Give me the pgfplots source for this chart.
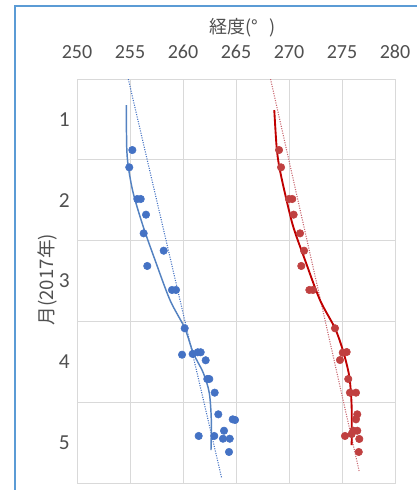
\documentclass[border=0pt]{standalone}
\usepackage{fontspec}
\setmainfont{Carlito}
\newfontfamily\cjk{Noto Sans CJK JP}
\usepackage{pgfplots}
\pgfplotsset{compat=1.18}
\definecolor{bordercol}{RGB}{91,155,213}
\definecolor{gridcol}{RGB}{217,217,217}
\definecolor{tickgray}{RGB}{80,80,80}
\definecolor{bluept}{RGB}{68,114,196}
\definecolor{blueln}{RGB}{84,130,193}
\definecolor{redpt}{RGB}{192,64,64}
\definecolor{redln}{RGB}{192,0,0}
\definecolor{reddot}{RGB}{200,100,110}
\begin{document}
\begin{tikzpicture}[x=1pt,y=1pt]
\useasboundingbox (0,0) rectangle (312.75,367.5);
\fill[white] (0,0) rectangle (312.75,367.5);
\draw[bordercol, line width=0.9pt] (11.25,-1) -- (11.25,363) -- (314,363);
\begin{axis}[
  name=ax,
  at={(57.75pt,5.25pt)}, anchor=south west,
  scale only axis, width=238.5pt, height=303pt,
  xmin=250, xmax=280, ymin=0, ymax=5, y dir=reverse,
  xtick={250,255,...,280}, xticklabel pos=top,
  ytick={0.5,1.5,2.5,3.5,4.5}, yticklabels={1,2,3,4,5},
  minor ytick={1,2,3,4},
  xmajorgrids=true, ymajorgrids=false, yminorgrids=true,
  major tick length=0pt, minor tick length=0pt,
  axis line style={gridcol, line width=0.6pt},
  grid style={gridcol, line width=0.6pt},
  minor grid style={gridcol, line width=0.6pt},
  /pgf/number format/assume math mode=true,
  xticklabel style={font=\fontsize{15}{15}\selectfont, text=tickgray, yshift=11.5pt},
  yticklabel style={font=\fontsize{16}{16}\selectfont, text=tickgray, xshift=-2pt},
  clip=true,
]
% blue linear trend (dotted)
\addplot[bluept, densely dotted, line width=0.8pt] coordinates {(254.84,0) (263.65,4.94)};
% red linear trend (dotted)
\addplot[reddot, densely dotted, line width=0.8pt] coordinates {(268.26,0) (276.63,4.86)};
% blue smooth curve
\addplot[blueln, line width=1.1pt, smooth, tension=0.5] coordinates {
(254.65,0.322) (254.69,0.838) (254.84,1.085) (255.31,1.415) (256.25,1.828)
(257.36,2.240) (258.77,2.735) (260.16,3.082) (260.97,3.391) (261.92,3.639)
(262.48,3.886) (262.67,4.220) (262.64,4.592)};
% red smooth curve
\addplot[redln, line width=1.4pt, smooth, tension=0.5] coordinates {
(268.61,0.384) (268.83,0.838) (269.08,1.085) (269.62,1.415) (270.40,1.828)
(271.51,2.240) (272.92,2.735) (274.34,3.085) (275.12,3.375) (275.69,3.684)
(275.91,4.056) (275.91,4.530)};
% blue points
\addplot[only marks, mark=*, mark size=2.8pt, mark options={fill=bluept, draw=bluept}] coordinates {
(255.22,0.879) (254.93,1.093) (255.69,1.485) (256.01,1.485) (256.51,1.679)
(256.29,1.910) (258.18,2.125) (256.63,2.314) (258.96,2.611) (259.34,2.611)
(260.16,3.085) (259.91,3.412) (260.91,3.403) (261.39,3.382) (261.67,3.382)
(262.14,3.481) (262.29,3.713) (262.48,3.713) (262.99,3.882) (263.33,4.150)
(264.69,4.212) (264.91,4.220) (263.87,4.353) (261.48,4.418) (262.95,4.418)
(263.77,4.452) (264.41,4.452) (264.34,4.616)};
% red points
\addplot[only marks, mark=*, mark size=2.8pt, mark options={fill=redpt, draw=redpt}] coordinates {
(269.06,0.879) (269.25,1.093) (270.00,1.485) (270.31,1.485) (270.44,1.679)
(271.04,1.910) (271.42,2.125) (271.16,2.314) (271.92,2.611) (272.26,2.611)
(274.34,3.085) (275.07,3.387) (275.44,3.379) (274.81,3.478) (275.59,3.713)
(275.75,3.882) (276.32,3.882) (276.44,4.150) (276.32,4.212) (276.07,4.353)
(276.44,4.353) (275.28,4.418) (275.91,4.394) (276.63,4.455) (276.58,4.616)};
\end{axis}
\node[font=\cjk\fontsize{13.5}{13.5}\selectfont, text=tickgray, anchor=center]
  at ([yshift=38.5pt, xshift=5pt]ax.north) {経度(°\hspace{0.6em})};
\node[font=\cjk\fontsize{14}{14}\selectfont, text=tickgray, rotate=90, anchor=center]
  at ([xshift=-22pt, yshift=1pt]ax.west) {月(2017年)};
\end{tikzpicture}
\end{document}
